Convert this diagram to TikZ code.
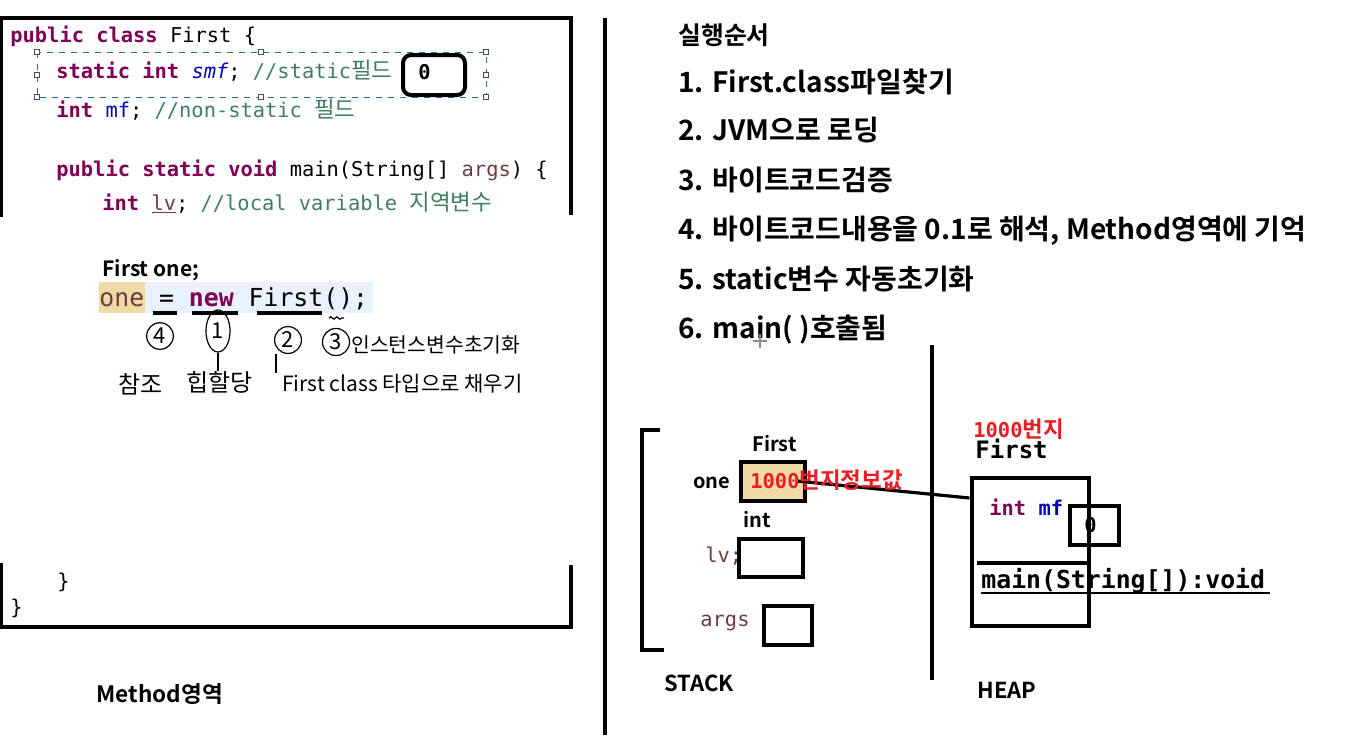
\documentclass[tikz,border=0pt]{standalone}
\usepackage{fontspec}
\setmainfont{Noto Sans CJK KR}[BoldFont={Noto Sans CJK KR Bold}]
\setmonofont{DejaVu Sans Mono}
\newfontfamily\kofont{Noto Sans CJK KR}[BoldFont={Noto Sans CJK KR Bold}]
\newfontfamily\kocode{Noto Sans CJK KR}[Scale=1.1,BoldFont={Noto Sans CJK KR Bold}]
\usetikzlibrary{positioning,calc,shapes.geometric,decorations.pathmorphing}
\definecolor{jkey}{HTML}{7F0055}
\definecolor{jfield}{HTML}{0000C0}
\definecolor{jcomment}{HTML}{3F7F5F}
\definecolor{jlocal}{HTML}{6A3E3E}
\definecolor{selblue}{HTML}{2E6E9E}
\definecolor{linebg}{HTML}{E8F1FD}
\definecolor{refbg}{HTML}{F0DAA8}
\definecolor{addrred}{HTML}{EC1C24}
\newcommand{\kw}[1]{\textcolor{jkey}{\bfseries #1}}
\newcommand{\fld}[1]{\textcolor{jfield}{#1}}
\newcommand{\cmt}[1]{\textcolor{jcomment}{#1}}
\newcommand{\loc}[1]{\textcolor{jlocal}{#1}}
\newcommand{\ko}[1]{{\kocode #1}}

\begin{document}
\begin{tikzpicture}[x=0.5pt,y=-0.5pt,
    code/.style={anchor=base west,inner sep=0pt,font=\fontsize{10.2}{12}\ttfamily},
    bigcode/.style={anchor=base west,inner sep=0pt,font=\fontsize{12.4}{14}\ttfamily\bfseries},
    orderitem/.style={anchor=base west,inner sep=0pt,font=\fontsize{14}{16}\bfseries},
    tag/.style={anchor=base west,inner sep=0pt,font=\fontsize{10}{12}\bfseries},
    hand/.style={anchor=base west,inner sep=0pt,font=\fontsize{11}{13}\kofont},
    circ/.style={draw,circle,line width=0.6pt,inner sep=1.2pt,font=\fontsize{11}{13}\kofont},
    cell/.style={draw,line width=2pt,inner sep=0pt},
    wall/.style={line width=2pt},
    handle/.style={draw=black!70,fill=white,line width=0.4pt,minimum size=2.5pt,inner sep=0pt}]
  \useasboundingbox (0,0) rectangle (1348,740);

  % method area
  \draw[wall] (1,217) -- (1,18) -- (571,18) -- (571,215);
  \draw[wall] (1,563) -- (1,627) -- (571,627) -- (571,565);
  \node[code] (l1) at (10,42) {\kw{public class} First \{};
  \draw[selblue,dashed,line width=0.5pt] (37,52) rectangle (486,97);
  \foreach \hx/\hy in {37/52,261/52,486/52,37/75,486/75,37/97,261/97,486/97}
    \node[handle] at (\hx,\hy) {};
  \node[code] (l2) at (56,78) {\kw{static int} \fld{\itshape smf}; \cmt{//static\ko{필드}}};
  \node[draw,line width=2pt,rounded corners=4pt,minimum width=31pt,minimum height=20pt,fill=white]
    (smfval) at (434,75) {};
  \node[code,font=\fontsize{10.2}{12}\ttfamily\bfseries] at (418,79) {0};
  \node[code] (l3) at (56,117) {\kw{int} \fld{mf}; \cmt{//non-static \ko{필드}}};
  \node[code] (l4) at (56,176) {\kw{public static void} main(String[] \loc{args}) \{};
  \node[code] (l5) at (102,210) {\kw{int} \loc{\underline{lv}}; \cmt{//local variable \ko{지역변수}}};
  \node[tag,font=\fontsize{10.5}{12}\bfseries] (decl) at (102,276) {First one;};
  \fill[linebg] (145,282) rectangle (373,313);
  \fill[refbg] (99,282) rectangle (145,313);
  \node[bigcode,font=\fontsize{12.4}{14}\ttfamily] (assign) at (99,306)
    {\loc{one} = \kw{new} First();};
  \draw[line width=1.6pt] (153,313) -- (177,313);
  \draw[line width=1.6pt] (192,313) -- (238,313);
  \draw[line width=1.6pt] (257,313) -- (322,313);
  \draw[decorate,decoration={snake,amplitude=0.6pt,segment length=3pt},line width=0.6pt]
    (329,318) -- (344,318);
  \node[code] at (57,588) {\}};
  \node[code] at (10,614) {\}};
  \node[tag,font=\fontsize{11.3}{13}\bfseries] (marea) at (96,702) {Method영역};

  % handwritten notes
  \node[circ] (n4) at (160,336) {4};
  \node[circ,ellipse,minimum height=21pt] (n1) at (218,331) {1};
  \node[circ] (n2) at (288,340) {2};
  \node[circ] (n3) at (336,342) {3};
  \node[hand,font=\fontsize{10.2}{12}\kofont] (initnote) at (351,352) {인스턴스변수초기화};
  \node[hand,font=\fontsize{12}{13}\kofont] (refnote) at (118,393) {참조};
  \node[hand,font=\fontsize{12}{13}\kofont] (hipnote) at (186,391) {힙할당};
  \node[hand,font=\fontsize{10.5}{13}\kofont] (typenote) at (282,391) {First class 타입으로 채우기};
  \draw[line width=0.6pt] (n1.south) -- (n1.south |- hipnote.north);
  \draw[line width=0.6pt] (n2.south west) ++(-2,4) coordinate (tk) -- (tk |- typenote.north);

  \draw[wall] (605,18) -- (605,735);

  % execution order
  \node[orderitem,font=\fontsize{12.4}{14}\bfseries] (ordhead) at (678,44) {실행순서};
  \node[orderitem] (o1) at (678,92) {1. First.class파일찾기};
  \node[orderitem] (o2) at (678,140) {2. JVM으로 로딩};
  \node[orderitem] (o3) at (678,190) {3. 바이트코드검증};
  \node[orderitem] (o4) at (678,239) {4. 바이트코드내용을 0.1로 해석, Method영역에 기억};
  \node[orderitem] (o5) at (678,289) {5. static변수 자동초기화};
  \node[orderitem] (o6) at (678,338) {6. main( )호출됨};
  \draw[black!45,line width=0.6pt] (753,341) -- (767,341) (760,334) -- (760,348);

  % stack
  \draw[wall] (660,430) -- (642,430) -- (642,650) -- (664,650);
  \node[tag] (onetype) at (752,451) {First};
  \node[tag] (onelab) at (693,488) {one};
  \node[cell,fill=refbg,minimum width=32pt,minimum height=19.5pt] (onebox) at (773,481) {};
  \node[tag] (lvtype) at (743,527) {int};
  \node[code] (lvlab) at (705,562) {\loc{lv;}};
  \node[cell,minimum width=32pt,minimum height=19pt] (lvbox) at (771,558) {};
  \node[code] (argslab) at (700,626) {\loc{args}};
  \node[cell,minimum width=24pt,minimum height=19.5pt] (argsbox) at (788,625) {};
  \node[tag,font=\fontsize{11}{13}\bfseries] (stacklab) at (664,691) {STACK};

  \draw[wall,line width=1.6pt] (932,345) -- (932,680);

  % heap
  \node[code,font=\fontsize{10.2}{12}\ttfamily\bfseries,text=addrred] (addr) at (973,437)
    {1000\ko{번지}};
  \node[bigcode,font=\fontsize{12}{14}\ttfamily\bfseries] (objtype) at (975,458) {First};
  \node[cell,minimum width=58.5pt,minimum height=74pt] (heapbox) at (1030,552) {};
  \node[code,font=\fontsize{10.2}{12}\ttfamily\bfseries] (mflab) at (989,515)
    {\textcolor{jkey}{int} \fld{mf}};
  \node[cell,minimum width=24.5pt,minimum height=19.5pt] (mfbox) at (1094,525) {};
  \node[code,font=\fontsize{10.2}{12}\ttfamily\bfseries] at (1084,532) {0};
  \draw[wall] (977,563) -- (1090,563);
  \node[bigcode] (mainsig) at (981,588) {main(String[]):void};
  \draw[line width=1pt] (mainsig.base west) ++(0,5) -- ++(289,0);
  \node[tag,font=\fontsize{11}{13}\bfseries] (heaplab) at (977,698) {HEAP};

  % reference from stack to heap
  \coordinate (objref) at (heapbox.west |- 0,498);
  \draw[line width=1.6pt] (onebox.center) ++(24,0) -- (objref);
  \node[code,font=\fontsize{10.2}{12}\ttfamily\bfseries,text=addrred] (refval) at (750,488)
    {1000\ko{번지정보값}};
\end{tikzpicture}
\end{document}
